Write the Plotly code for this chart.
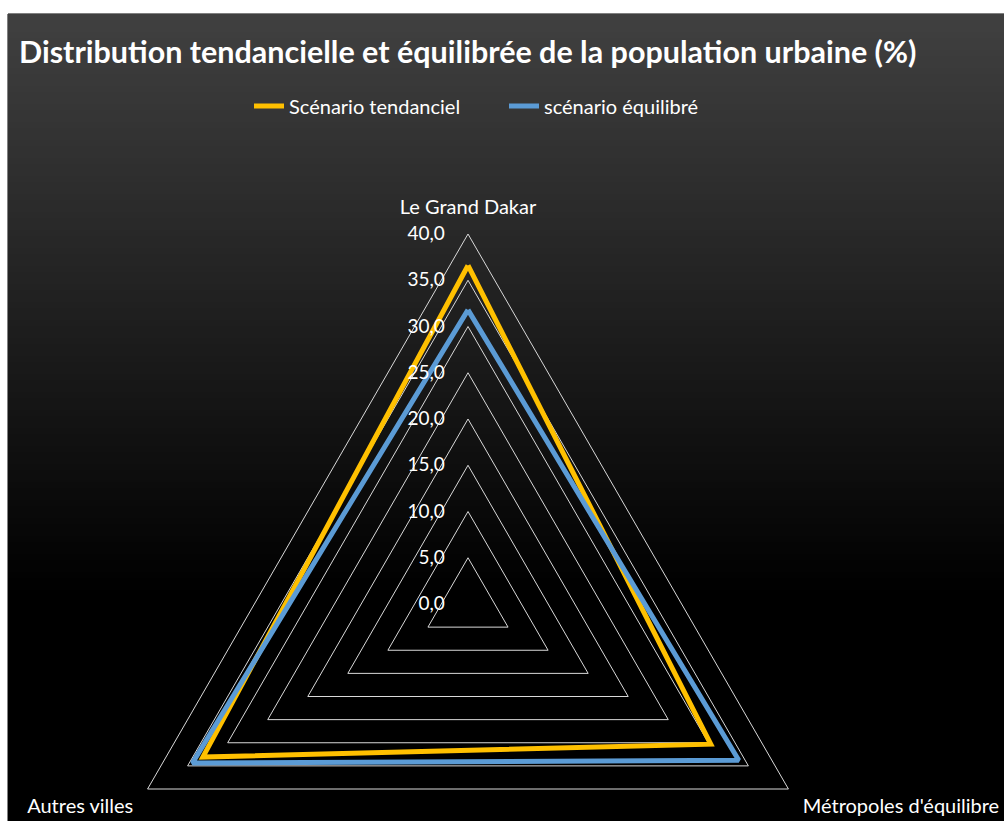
import plotly.graph_objects as go

# Radar categories and the two scenarios (share of urban population, %)
categories = ["Le Grand Dakar", "Métropoles d'équilibre", "Autres villes"]
tendanciel = [36.6, 30.3, 33.1]
equilibre = [31.8, 33.8, 34.4]
series_names = ["Scénario tendanciel", "scénario équilibré"]
series_colors = ["#FFC000", "#5B9BD5"]

W, H = 1004, 1000
FONT = "Lato"


def closed(values):
    return list(values) + [values[0]]


fig = go.Figure()
for name, vals, col in zip(series_names, [tendanciel, equilibre], series_colors):
    fig.add_trace(go.Scatterpolar(
        r=closed(vals),
        theta=closed(categories),
        mode="lines",
        name=name,
        line=dict(color=col, width=5),
        hoverinfo="name+r+theta",
    ))

# Chart-area background: dark grey at top fading to black
shapes = [dict(type="rect", xref="paper", yref="paper",
               x0=8 / W, x1=1.0, y0=0.0, y1=1 - 14 / H,
               fillcolor="#000000", line=dict(color="#000000", width=1),
               layer="below")]
top, fade_end, step = 14, 590, 6
py = top
while py < fade_end:
    frac = (py - top) / (fade_end - top)
    v = int(round(64 * (1 - frac)))
    shapes.append(dict(type="rect", xref="paper", yref="paper",
                       x0=8 / W, x1=1.0,
                       y0=1 - min(py + step, fade_end) / H, y1=1 - py / H,
                       fillcolor=f"rgb({v},{v},{v})", line=dict(width=0),
                       layer="below"))
    py += step

cx, cy, rad = 468, 604, 370
fig.update_layout(
    width=W, height=H,
    margin=dict(l=0, r=0, t=0, b=0),
    paper_bgcolor="#FFFFFF",
    plot_bgcolor="rgba(0,0,0,0)",
    separators=", ",
    font=dict(family=FONT, color="#FFFFFF", size=19),
    shapes=shapes,
    title=dict(
        text="Distribution tendancielle et équilibrée de la population urbaine (%)",
        x=19 / W, xanchor="left", xref="paper",
        y=1 - 52 / H, yanchor="middle", yref="paper",
        font=dict(family=FONT, size=30.5, color="#FFFFFF", weight="bold"),
    ),
    showlegend=True,
    legend=dict(
        orientation="h", x=249 / W, xanchor="left",
        y=1 - 106 / H, yanchor="middle",
        bgcolor="rgba(0,0,0,0)", font=dict(family=FONT, size=20, color="#FFFFFF"),
        itemwidth=30, traceorder="normal",
        entrywidth=210, entrywidthmode="pixels",
    ),
    polar=dict(
        domain=dict(x=[(cx - rad) / W, (cx + rad) / W],
                    y=[(H - cy - rad) / H, (H - cy + rad) / H]),
        bgcolor="rgba(0,0,0,0)",
        gridshape="linear",
        radialaxis=dict(
            range=[0, 40], dtick=5, tick0=0, tickformat=".1f",
            angle=90, tickangle=90, side="counterclockwise",
            showline=False, showgrid=True,
            gridcolor="#D9D9D9", gridwidth=1,
            ticks="outside", ticklen=16, tickcolor="rgba(0,0,0,0)",
            tickfont=dict(family=FONT, size=19, color="#FFFFFF"),
        ),
        angularaxis=dict(
            rotation=90, direction="clockwise",
            showgrid=False, showline=True,
            linecolor="#D9D9D9", linewidth=1,
            ticks="outside", ticklen=12, tickcolor="rgba(0,0,0,0)",
            tickfont=dict(family=FONT, size=20, color="#FFFFFF"),
        ),
    ),
)

fig.write_html(
    "out.html",
    post_script="document.documentElement.style.overflow='hidden';"
                "document.body.style.overflow='hidden';document.body.style.margin='0';",
)
